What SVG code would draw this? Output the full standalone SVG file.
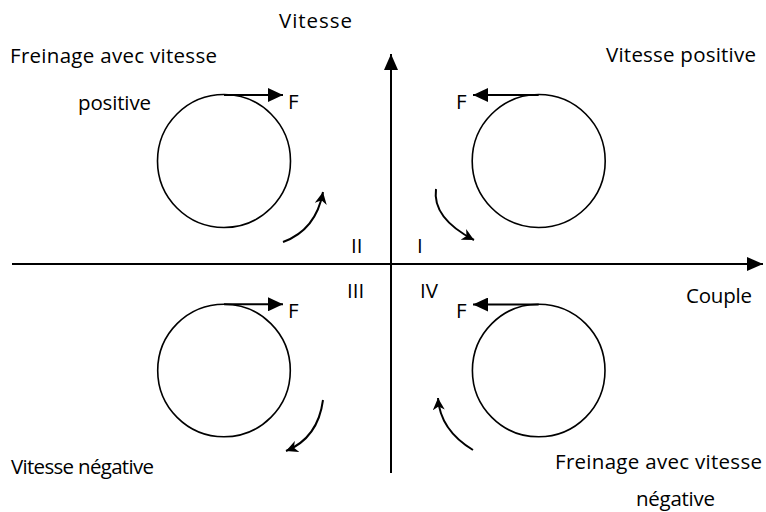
<svg xmlns="http://www.w3.org/2000/svg" width="766" height="512" viewBox="0 0 766 512">
<style>
text{font-family:"Open Sans","Liberation Sans",sans-serif;font-size:20.5px;fill:#000}
.c{fill:none;stroke:#000;stroke-width:1.6}
.f{fill:none;stroke:#000;stroke-width:2}
.ax{fill:none;stroke:#000;stroke-width:2}
.cv{fill:none;stroke:#000;stroke-width:2}
</style>
<defs>
<marker id="tri" viewBox="0 0 15 14" refX="15" refY="7" markerWidth="15" markerHeight="14" markerUnits="userSpaceOnUse" orient="auto"><path d="M0,0 L15,7 L0,14 z" fill="#000"/></marker>
<marker id="axh" viewBox="0 0 16 14" refX="16" refY="7" markerWidth="16" markerHeight="14" markerUnits="userSpaceOnUse" orient="auto"><path d="M0,0 L16,7 L0,14 z" fill="#000"/></marker>
<marker id="barb" viewBox="0 0 12 12" refX="12" refY="6" markerWidth="12" markerHeight="12" markerUnits="userSpaceOnUse" orient="auto"><path d="M0,0 L12,6 L0,12 L3.5,6 z" fill="#000"/></marker>
</defs>
<g id="connectors">
<line id="axis-couple" class="ax" x1="12" y1="264" x2="763" y2="264" marker-end="url(#axh)"/>
<line id="axis-vitesse" class="ax" x1="391" y1="473" x2="391" y2="54" marker-end="url(#axh)"/>
<path class="cv" d="M283,242 Q316,230 323,192" marker-end="url(#barb)"/>
<path class="cv" d="M436,189 Q432,218 474,240" marker-end="url(#barb)"/>
<path class="cv" d="M323,400 Q318,438 286,451" marker-end="url(#barb)"/>
<path class="cv" d="M473,450 Q440,430 438,398" marker-end="url(#barb)"/>
</g>
<g id="q2">
<circle class="c" cx="224" cy="161" r="66.5"/>
<line class="f" x1="224" y1="95" x2="283" y2="95" marker-end="url(#tri)"/>
<text x="288" y="109">F</text>
</g>
<g id="q1">
<circle class="c" cx="538.7" cy="161" r="66.5"/>
<line class="f" x1="538.7" y1="95" x2="473" y2="95" marker-end="url(#tri)"/>
<text x="456" y="109">F</text>
</g>
<g id="q3">
<circle class="c" cx="224" cy="370.5" r="66.3"/>
<line class="f" x1="224" y1="304.3" x2="283" y2="304.3" marker-end="url(#tri)"/>
<text x="288" y="318">F</text>
</g>
<g id="q4">
<circle class="c" cx="538.7" cy="370.5" r="66.3"/>
<line class="f" x1="538.7" y1="304.5" x2="473" y2="304.5" marker-end="url(#tri)"/>
<text x="456" y="318">F</text>
</g>
<g id="labels">
<text x="279" y="28" textLength="73">Vitesse</text>
<text x="10" y="63" textLength="207">Freinage avec vitesse</text>
<text x="78" y="110" textLength="73">positive</text>
<text x="606" y="62" textLength="150">Vitesse positive</text>
<text x="686" y="303" textLength="66">Couple</text>
<text x="351" y="253">II</text>
<text x="417" y="253">I</text>
<text x="347" y="298">III</text>
<text x="420" y="298">IV</text>
<text x="11" y="474" textLength="143">Vitesse négative</text>
<text x="555" y="469" textLength="207">Freinage avec vitesse</text>
<text x="636" y="506" textLength="79">négative</text>
</g>
</svg>
